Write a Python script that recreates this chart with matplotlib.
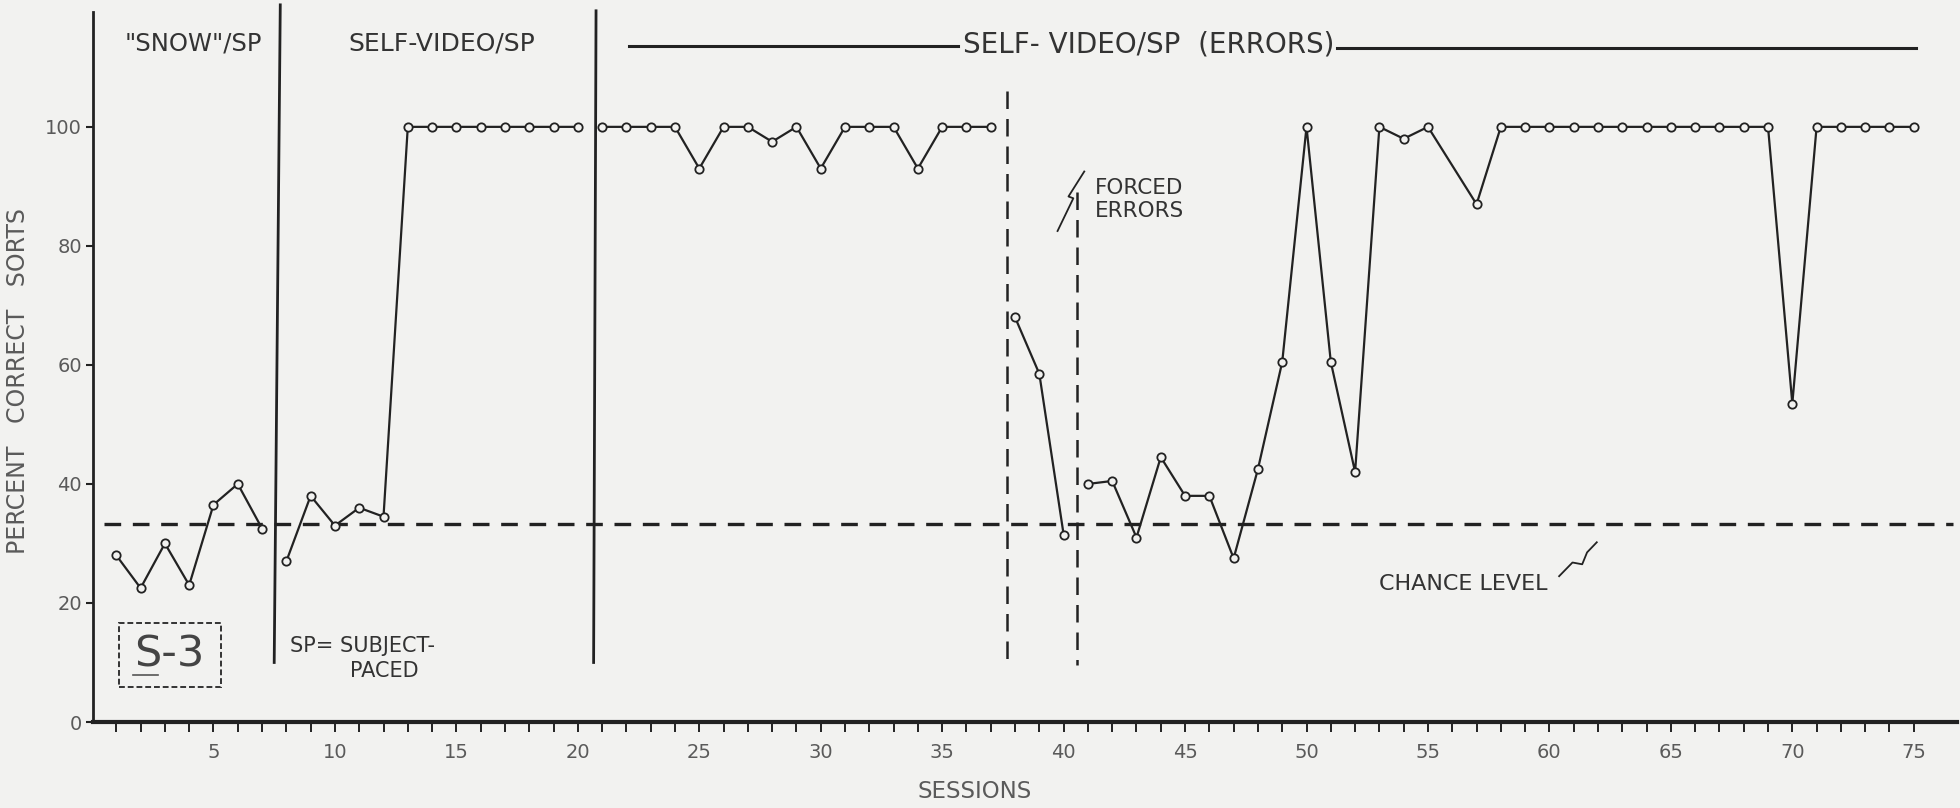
import matplotlib.pyplot as plt
from matplotlib.patches import Rectangle

# sessions / percent correct sorts, one list per phase (segments are not joined)
snow_sessions = [1, 2, 3, 4, 5, 6, 7]
snow_pct = [28, 22.5, 30, 23, 36.5, 40, 32.5]

video_sessions = list(range(8, 21))
video_pct = [27, 38, 33, 36, 34.5, 100, 100, 100, 100, 100, 100, 100, 100]

errors_sessions = list(range(21, 38))
errors_pct = [100, 100, 100, 100, 93, 100, 100, 97.5, 100, 93, 100, 100, 100, 93, 100, 100, 100]

forced_sessions = [38, 39, 40]
forced_pct = [68, 58.5, 31.5]

post_sessions = list(range(41, 56)) + list(range(57, 76))
post_pct = [40, 40.5, 31, 44.5, 38, 38, 27.5, 42.5, 60.5, 100, 60.5, 42, 100, 98, 100,
            87, 100, 100, 100, 100, 100, 100, 100, 100, 100, 100, 100, 100,
            53.5, 100, 100, 100, 100, 100]

chance_level = 33.3

ink = '#222222'
text_c = '#333333'
light = '#5a5a5a'
bg = '#f2f2f0'

fig = plt.figure(figsize=(19.6, 8.08), dpi=100, facecolor=bg)
ax = fig.add_axes([93 / 1960, 86 / 808, 1864 / 1960, 710 / 808])
ax.set_facecolor(bg)
ax.set_xlim(0.04, 76.78)
ax.set_ylim(0, 119.3)

for s in ['top', 'right']:
    ax.spines[s].set_visible(False)
ax.spines['left'].set_linewidth(2)
ax.spines['left'].set_color(ink)
ax.spines['bottom'].set_linewidth(3)
ax.spines['bottom'].set_color(ink)

# data
for xs, ys in [(snow_sessions, snow_pct), (video_sessions, video_pct),
               (errors_sessions, errors_pct), (forced_sessions, forced_pct),
               (post_sessions, post_pct)]:
    ax.plot(xs, ys, color=ink, lw=1.6, marker='o', ms=6, mfc=bg, mec=ink, mew=1.3,
            clip_on=False, zorder=3)

# chance level
ax.plot([0.5, 76.6], [chance_level, chance_level], color=ink, lw=2.4,
        linestyle=(0, (5, 3.5)), zorder=2)

# phase separators
ax.plot([7.75, 7.5], [120.5, 10], color=ink, lw=2, clip_on=False)
ax.plot([20.75, 20.65], [119.5, 10], color=ink, lw=2, clip_on=False)
ax.plot([37.65, 37.65], [106, 9.5], color=ink, lw=1.8, linestyle=(0, (7, 4)))
ax.plot([40.55, 40.55], [89, 9.5], color=ink, lw=1.8, linestyle=(0, (7, 4)))

# header labels
ax.text(1.35, 114, '"SNOW"/SP', fontsize=17.5, color=text_c, va='center', ha='left')
ax.text(14.4, 114, 'SELF-VIDEO/SP', fontsize=18, color=text_c, va='center', ha='center')
hdr = ax.text(43.5, 113.8, 'SELF- VIDEO/SP  (ERRORS)', fontsize=20, color=text_c,
              va='center', ha='center')

# forced errors note
ax.text(41.3, 87.8, 'FORCED\nERRORS', fontsize=15.5, color=text_c, va='center', ha='left',
        linespacing=1.2)
ax.plot([39.75, 40.4, 40.2, 40.85], [82.5, 88, 88.3, 92.5], color=ink, lw=1.3)

# chance level note
ax.text(53.0, 23.2, 'CHANCE LEVEL', fontsize=16, color=text_c, va='center', ha='left')
ax.plot([60.4, 60.95, 61.35, 61.55, 61.95], [24.5, 26.8, 26.5, 28.5, 30.2], color=ink, lw=1.3)

# subject-paced note
ax.text(8.15, 12.8, 'SP= SUBJECT-', fontsize=15, color=text_c, va='center', ha='left')
ax.text(10.6, 8.6, 'PACED', fontsize=15, color=text_c, va='center', ha='left')

# subject box
ax.add_patch(Rectangle((1.1, 5.9), 4.2, 10.7, fill=False, ec=text_c, lw=1.4,
                       linestyle=(0, (3, 1.5))))
ax.text(3.2, 11.4, 'S-3', fontsize=31, color='#444444', va='center', ha='center')
ax.plot([1.7, 2.7], [7.9, 7.9], color='#555555', lw=1.2)

# ticks
ax.set_yticks([0, 20, 40, 60, 80, 100])
ax.tick_params(axis='y', direction='out', length=5, width=1.5, color=ink,
               labelcolor=light, labelsize=14, pad=3)
ax.set_xticks(range(1, 76))
ax.set_xticklabels([str(v) if v % 5 == 0 else '' for v in range(1, 76)])
ax.tick_params(axis='x', direction='out', length=7, width=1.4, color=ink,
               labelcolor=light, labelsize=14, pad=8)

ax.set_xlabel('SESSIONS', fontsize=16.5, color=light)
ax.xaxis.set_label_coords(0.473, -0.082)
ax.set_ylabel('PERCENT   CORRECT   SORTS', fontsize=17, color=light)
ax.yaxis.set_label_coords(-0.034, 0.48)

# header rules run up to the header text
fig.canvas.draw()
bb = hdr.get_window_extent().transformed(ax.transData.inverted())
ax.plot([22.1, bb.x0 - 0.2], [113.6, 113.6], color=ink, lw=2.2, clip_on=False)
ax.plot([bb.x1 + 0.1, 75.1], [113.3, 113.3], color=ink, lw=2.2, clip_on=False)

fig.savefig('out.png', dpi=100, facecolor=bg)
